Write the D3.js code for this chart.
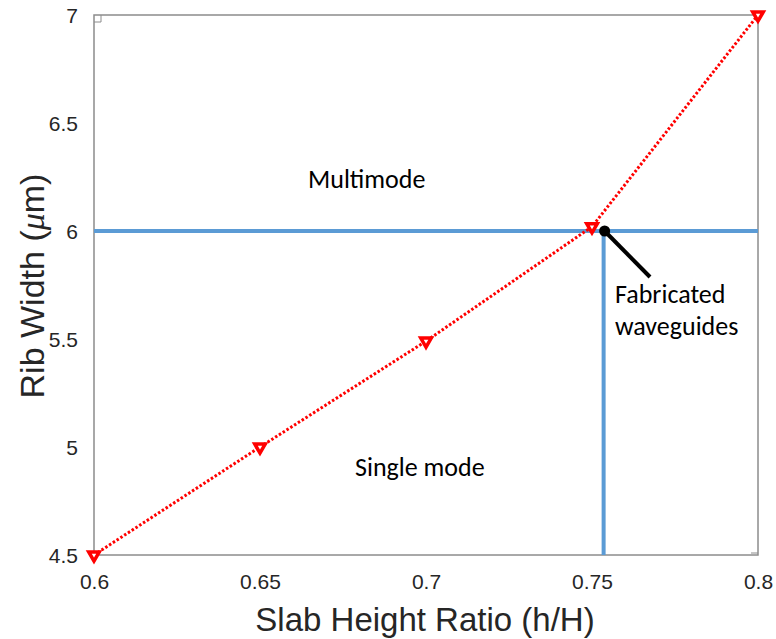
<!DOCTYPE html>
<html>
<head>
<meta charset="utf-8">
<script src="https://cdn.jsdelivr.net/npm/d3@7"></script>
<style>
  body { margin: 0; background: #fff; }
  svg { display: block; }
  .tick text { font-family: "Liberation Sans", Arial, sans-serif; font-size: 21px; fill: #262626; }
</style>
</head>
<body>
<svg id="chart" width="776" height="639"></svg>
<script>
// Slab height ratio vs. single-mode cut-off rib width
const ratios = [0.6, 0.65, 0.7, 0.75, 0.8];
const ribWidths = [4.5, 5.0, 5.49, 6.02, 7.0];
const xTicks = [0.6, 0.65, 0.7, 0.75, 0.8];
const yTicks = [4.5, 5, 5.5, 6, 6.5, 7];
const fabWidth = 6;        // fabricated rib width (µm)
const fabRatio = 0.7535;   // fabricated slab height ratio

const svg = d3.select("#chart");
const pL = 94, pR = 758, pT = 15, pB = 555;

const x = d3.scaleLinear().domain([0.6, 0.8]).range([pL, pR]);
const y = d3.scaleLinear().domain([4.5, 7]).range([pB, pT]);

const sans = "Liberation Sans, Arial, sans-serif";
const calibri = "Carlito, Calibri, Open Sans, sans-serif";

// box frame
svg.append("rect")
  .attr("x", pL).attr("y", pT)
  .attr("width", pR - pL).attr("height", pB - pT)
  .attr("fill", "none").attr("stroke", "#8c8c8c").attr("stroke-width", 1.5);

// tick labels
const xAxis = d3.axisBottom(x).tickValues(xTicks).tickSize(0).tickPadding(0)
  .tickFormat(d => d3.format("")(d));
const gx = svg.append("g").attr("transform", `translate(0,${pB})`).call(xAxis)
  .attr("font-size", 21).attr("font-family", sans);
gx.select(".domain").remove();
gx.selectAll("text").attr("y", 34).attr("dy", null);

const yAxis = d3.axisLeft(y).tickValues(yTicks).tickSize(0).tickPadding(0)
  .tickFormat(d => d3.format("")(d));
const gy = svg.append("g").attr("transform", `translate(${pL},0)`).call(yAxis)
  .attr("font-size", 21).attr("font-family", sans);
gy.select(".domain").remove();
gy.selectAll("text").attr("x", -16).attr("dy", "0.36em");

// corner ticks
svg.append("path").attr("d", `M${pL},${pT + 7}H${pL + 7}M${pL + 7},${pT}V${pT + 7}`)
  .attr("stroke", "#8c8c8c").attr("stroke-width", 1).attr("fill", "none");
svg.append("path").attr("d", `M${pR - 7},${pB - 2}H${pR}`)
  .attr("stroke", "#8c8c8c").attr("stroke-width", 1).attr("fill", "none");

// axis titles
svg.append("text")
  .attr("x", 425).attr("y", 631)
  .attr("text-anchor", "middle")
  .style("font-family", sans).style("font-size", "33px").attr("fill", "#262626")
  .text("Slab Height Ratio (h/H)");

const yTitle = svg.append("text")
  .attr("transform", `translate(44,286) rotate(-90)`)
  .attr("text-anchor", "middle")
  .style("font-family", sans).style("font-size", "34px").attr("fill", "#262626");
yTitle.append("tspan").text("Rib Width (");
yTitle.append("tspan").style("font-style", "italic").style("font-family", "Liberation Serif, serif").text("μ");
yTitle.append("tspan").text("m)");

// fabricated waveguide guides
svg.append("line")
  .attr("x1", x(0.6)).attr("x2", x(0.8))
  .attr("y1", y(fabWidth)).attr("y2", y(fabWidth))
  .attr("stroke", "#5b9bd5").attr("stroke-width", 4);
svg.append("line")
  .attr("x1", x(fabRatio)).attr("x2", x(fabRatio))
  .attr("y1", y(fabWidth)).attr("y2", y(4.5))
  .attr("stroke", "#5b9bd5").attr("stroke-width", 4);

// cut-off curve
const line = d3.line().x(d => x(d[0])).y(d => y(d[1]));
const pts = ratios.map((r, i) => [r, ribWidths[i]]);
svg.append("path").datum(pts)
  .attr("d", line)
  .attr("fill", "none").attr("stroke", "#ff0000")
  .attr("stroke-width", 3).attr("stroke-dasharray", "2.5,2");

// downward triangle markers
const tri = d3.symbol().type(d3.symbolTriangle).size(48);
svg.selectAll(".mk").data(pts).join("path")
  .attr("class", "mk")
  .attr("transform", d => `translate(${x(d[0])},${y(d[1])}) rotate(180)`)
  .attr("d", tri)
  .attr("fill", "#fff").attr("stroke", "#ff0000").attr("stroke-width", 3.5)
  .attr("stroke-linejoin", "miter");

// annotation pointer
svg.append("line")
  .attr("x1", x(fabRatio) + 1).attr("y1", y(fabWidth))
  .attr("x2", 650).attr("y2", 277)
  .attr("stroke", "#000").attr("stroke-width", 4);
svg.append("circle")
  .attr("cx", x(fabRatio) + 1).attr("cy", y(fabWidth)).attr("r", 5.5)
  .attr("fill", "#000");

// region labels
const lab = (t, xx, yy) => svg.append("text")
  .attr("x", xx).attr("y", yy)
  .style("font-family", calibri).style("font-size", "26px")
  .attr("fill", "#000").text(t);
lab("Multimode", 308, 188);
lab("Single mode", 355, 476);
lab("Fabricated", 615, 303);
lab("waveguides", 615, 335);
</script>
</body>
</html>
